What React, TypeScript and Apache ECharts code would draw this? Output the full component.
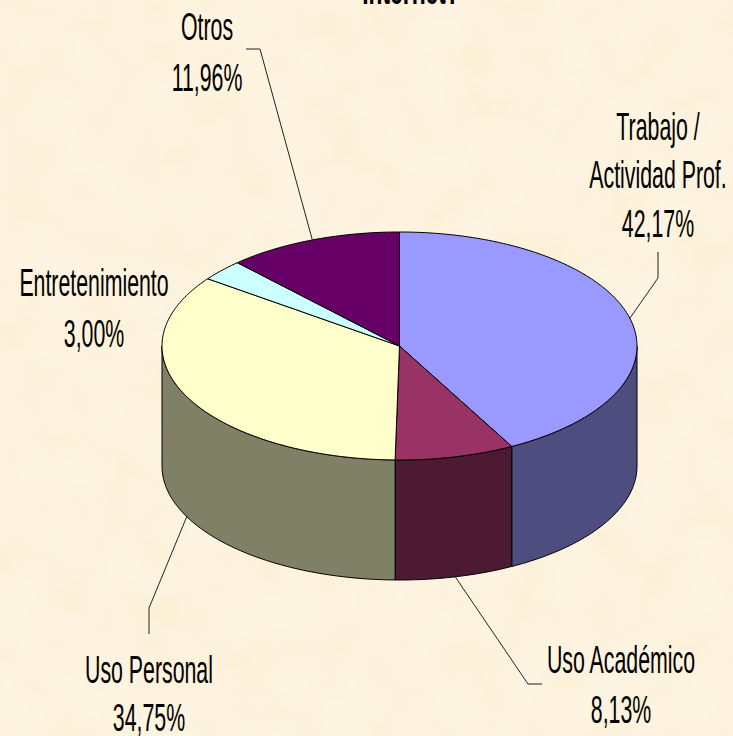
import React, { useEffect, useRef } from "react";
import * as echarts from "echarts";

const categories = ["Trabajo /\nActividad Prof.", "Uso Académico", "Uso Personal", "Entretenimiento", "Otros"];
const shares = [42.17, 8.13, 34.75, 3.0, 11.96];
const topColors = ["#9999FF", "#993366", "#FFFFCC", "#CCFFFF", "#660066"];
const sideColors = ["#4D4D80", "#4D1A33", "#808066", "#668080", "#330033"];
const labelCenters = [[658, 175.5], [621, 685.5], [149, 694], [94, 308.5], [207, 52.5]];
const labelLineHeights = [48.5, 50, 48, 51, 51];
const leaderElbows: (number[][] | null)[] = [
  [[658, 278], [658, 252]],
  [[528, 684], [542, 684]],
  [[149, 608], [149, 634]],
  null,
  [[260, 49], [246, 49]],
];

const CX = 399.5, CY = 346, RX = 237.5, RY = 114, DEPTH = 120;
const FONT = '"Liberation Sans", Arial, sans-serif';
const TEXT_SCALE = 0.561;
const parchment =
  "url(\"data:image/svg+xml;utf8," +
  encodeURIComponent(
    `<svg xmlns='http://www.w3.org/2000/svg' width='733' height='736'><filter id='n' x='0' y='0' width='100%' height='100%'><feTurbulence type='fractalNoise' baseFrequency='0.022' numOctaves='2' seed='7'/><feColorMatrix values='0 0 0 0 0.93  0 0 0 0 0.80  0 0 0 0 0.50  0.6 0 0 0 -0.2'/></filter><rect width='733' height='736' fill='#FEF4E2'/><rect width='733' height='736' filter='url(#n)'/></svg>`
  ) +
  "\")";

const pt = (deg: number, dy = 0) => {
  const a = (deg * Math.PI) / 180;
  return [CX + RX * Math.sin(a), CY - RY * Math.cos(a) + dy];
};
const arc = (a0: number, a1: number, dy = 0) => {
  const out: number[][] = [];
  const n = Math.max(2, Math.ceil(Math.abs(a1 - a0)));
  for (let i = 0; i <= n; i++) out.push(pt(a0 + ((a1 - a0) * i) / n, dy));
  return out;
};

export default function App() {
  const ref = useRef<HTMLDivElement>(null);
  useEffect(() => {
    document.body.style.margin = "0";
    const chart = echarts.init(ref.current!, null, { renderer: "svg" });
    const total = shares.reduce((s, v) => s + v, 0);
    const renderItem = (_p: any, api: any) => {
      const i = api.value(0);
      const before = shares.slice(0, i).reduce((s, v) => s + v, 0);
      const a0 = (before / total) * 360;
      const a1 = ((before + api.value(1)) / total) * 360;
      const mid = (a0 + a1) / 2;
      const children: any[] = [];
      const s0 = Math.max(a0, 90), s1 = Math.min(a1, 270);
      if (s1 > s0) {
        children.push({
          type: "polygon",
          shape: { points: [...arc(s0, s1), ...arc(s1, s0, DEPTH)] },
          style: { fill: sideColors[i], stroke: "#000", lineWidth: 1 },
        });
      }
      children.push({
        type: "polygon",
        shape: { points: [[CX, CY], ...arc(a0, a1)] },
        style: { fill: topColors[i], stroke: "#000", lineWidth: 1 },
      });
      const elbow = leaderElbows[i];
      if (elbow) {
        const anchor = pt(mid, mid > 90 && mid < 270 ? DEPTH : 0);
        children.push({
          type: "polyline",
          shape: { points: [anchor, ...elbow] },
          style: { fill: "none", stroke: "#222", lineWidth: 1 },
        });
      }
      const [lx, ly] = labelCenters[i];
      const pct = api.value(1).toFixed(2).replace(".", ",") + "%";
      children.push({
        type: "text",
        x: lx,
        y: ly,
        scaleX: TEXT_SCALE,
        style: {
          text: categories[i] + "\n" + pct,
          font: `38px ${FONT}`,
          fill: "#000",
          align: "center",
          verticalAlign: "middle",
          lineHeight: labelLineHeights[i],
        },
      });
      return { type: "group", children };
    };
    chart.setOption({
      animation: false,
      backgroundColor: "transparent",
      graphic: [
        {
          type: "text",
          x: 411,
          y: 10,
          scaleX: 0.6,
          style: { text: "Internet?", font: `bold 38px ${FONT}`, fill: "#000", align: "center", verticalAlign: "bottom" },
        },
      ],
      series: [
        {
          type: "custom",
          coordinateSystem: "none",
          renderItem,
          clip: false,
          data: shares.map((v, i) => [i, v]),
        },
      ],
    });
    return () => chart.dispose();
  }, []);
  return (
    <div style={{ position: "absolute", left: 0, top: 0, width: 733, height: 736, backgroundImage: parchment, overflow: "hidden" }}>
      <div ref={ref} style={{ width: 733, height: 736 }} />
    </div>
  );
}
